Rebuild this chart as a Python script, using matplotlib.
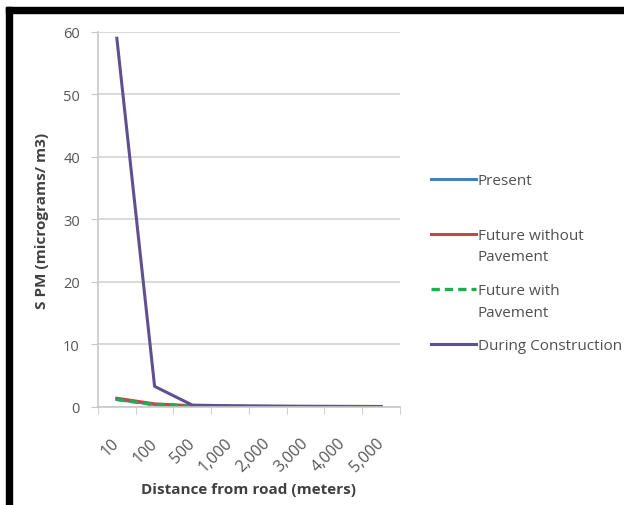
import matplotlib.pyplot as plt
from matplotlib.patches import Rectangle

distances = ["10", "100", "500", "1,000", "2,000", "3,000", "4,000", "5,000"]
present = [1.2, 0.4, 0.15, 0.1, 0.08, 0.06, 0.05, 0.04]
future_without = [1.4, 0.5, 0.2, 0.12, 0.09, 0.07, 0.06, 0.05]
future_with = [1.2, 0.35, 0.12, 0.08, 0.06, 0.05, 0.04, 0.03]
during_construction = [59.0, 3.3, 0.3, 0.2, 0.15, 0.12, 0.1, 0.08]
y_ticks = [0, 10, 20, 30, 40, 50, 60]

plt.rcParams['font.family'] = ['Open Sans', 'DejaVu Sans']

fig = plt.figure(figsize=(6.24, 5.06), dpi=100)
ax = fig.add_axes([0.157, 0.1937, 0.484, 0.7411])

x = list(range(len(distances)))
ax.plot(x, present, color='#4a7ebb', lw=2.2, label='Present\n ')
ax.plot(x, future_without, color='#be4b48', lw=2.2, label='Future without\nPavement')
ax.plot(x, future_with, color='#1fae4f', lw=2.4, ls=(0, (2.5, 1.5)), label='Future with\nPavement')
ax.plot(x, during_construction, color='#5f5190', lw=2.2, label='During Construction\n ')

ax.set_xlim(-0.5, len(distances) - 0.5)
ax.set_ylim(0, 60)
ax.set_yticks(y_ticks)
ax.set_xticks(x)
ax.set_xticklabels(distances, rotation=45, ha='right', va='center', rotation_mode='anchor')
ax.set_xticks([i - 0.5 for i in range(len(distances) + 1)], minor=True)
ax.tick_params(axis='x', which='major', length=0, pad=24, labelsize=11.5, labelcolor='#555555')
ax.tick_params(axis='x', which='minor', length=5, color='#c8c8c8')
ax.tick_params(axis='y', length=5, color='#c8c8c8', labelsize=10.5, labelcolor='#555555', pad=8)
ax.grid(axis='y', color='#d3d3d3', lw=1.2)
ax.set_axisbelow(True)
for side in ['top', 'right']:
    ax.spines[side].set_visible(False)
for side in ['left', 'bottom']:
    ax.spines[side].set_color('#c8c8c8')
    ax.spines[side].set_linewidth(1.2)

ax.set_xlabel('Distance from road (meters)', fontsize=11, fontweight='bold', color='#404040', labelpad=5)
ax.set_ylabel('S PM (micrograms/ m3)', fontsize=11, fontweight='bold', color='#404040', labelpad=10)

leg = ax.legend(loc='upper left', bbox_to_anchor=(0.69, 0.657), bbox_transform=fig.transFigure,
                frameon=False, fontsize=11, handlelength=3.0, handletextpad=0.1,
                labelspacing=1.22, borderpad=0, borderaxespad=0)
for t in leg.get_texts():
    t.set_color('#505050')
    t.set_linespacing(1.6)
# put each legend line level with the first line of its label
for ln in leg.get_lines():
    ln.set_ydata([y + 9 for y in ln.get_ydata()])

# black frame along top and left edges
fig.patches.append(Rectangle((6 / 624, 1 - 14 / 506), 1, 6 / 506, transform=fig.transFigure,
                             color='black', zorder=10))
fig.patches.append(Rectangle((6 / 624, 0), 6 / 624, 1 - 8 / 506, transform=fig.transFigure,
                             color='black', zorder=10))

fig.savefig('out.png', dpi=100)
